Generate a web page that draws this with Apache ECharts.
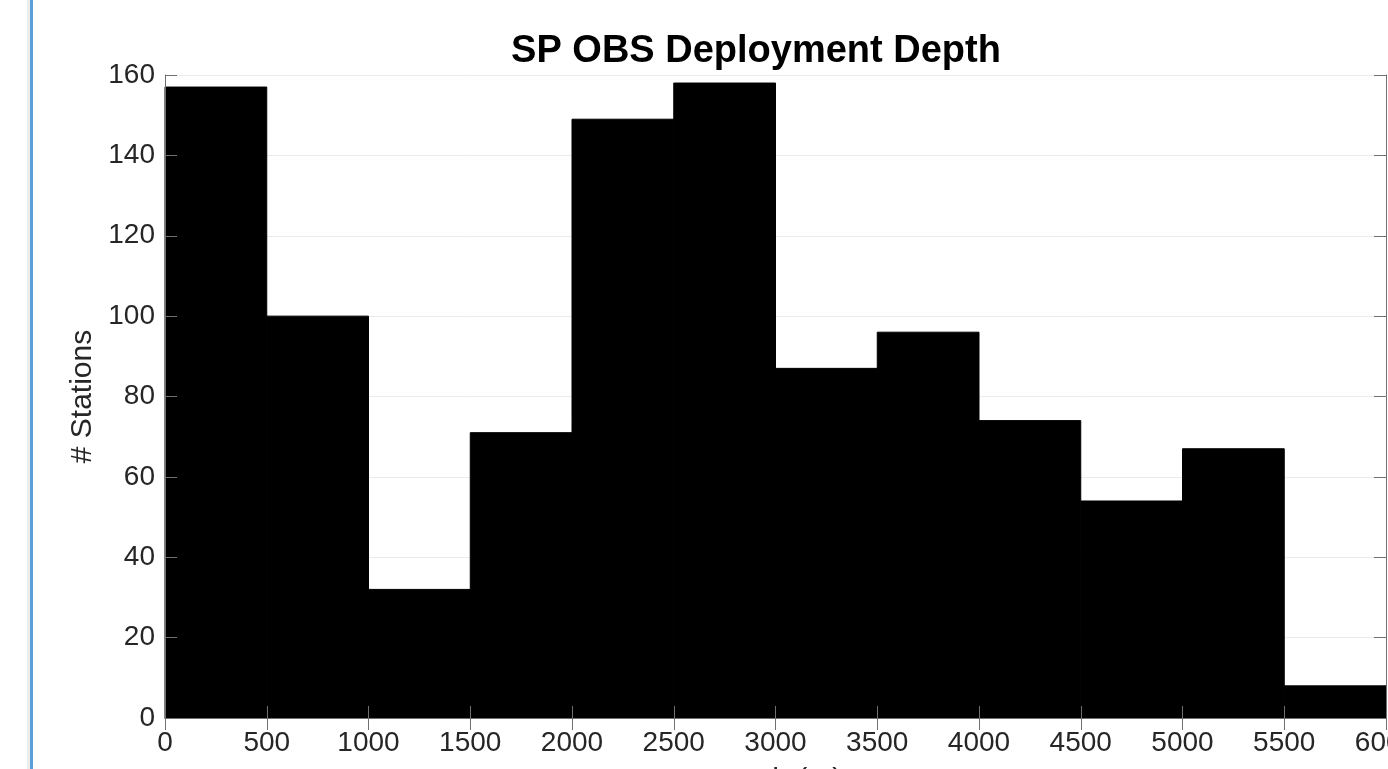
<!DOCTYPE html>
<html>
<head>
<meta charset="utf-8">
<title>SP OBS Deployment Depth</title>
<script src="https://cdn.jsdelivr.net/npm/echarts@6/dist/echarts.min.js"></script>
<style>
  html, body { margin: 0; padding: 0; background: #ffffff; overflow: hidden; }
  #chart { width: 1388px; height: 769px; }
</style>
</head>
<body>
<div id="chart"></div>
<script>
// Histogram of station deployment depths (bin width 500 m)
const binEdges = [0, 500, 1000, 1500, 2000, 2500, 3000, 3500, 4000, 4500, 5000, 5500, 6000];
const stationCounts = [157, 100, 32, 71, 149, 158, 87, 96, 74, 54, 67, 8];
const xTicks = [0, 500, 1000, 1500, 2000, 2500, 3000, 3500, 4000, 4500, 5000, 5500, 6000];
const yTicks = [0, 20, 40, 60, 80, 100, 120, 140, 160];

const titleText = 'SP OBS Deployment Depth';
const xLabel = 'Depth (m)';
const yLabel = '# Stations';

const FONT = '"Liberation Sans", Arial, Helvetica, sans-serif';
const axisGray = '#707070';
const labelColor = '#262626';

const bins = stationCounts.map((c, i) => [binEdges[i], binEdges[i + 1], c]);

const xMin = xTicks[0], xMax = xTicks[xTicks.length - 1], xStep = xTicks[1] - xTicks[0];
const yMin = yTicks[0], yMax = yTicks[yTicks.length - 1], yStep = yTicks[1] - yTicks[0];

const chart = echarts.init(document.getElementById('chart'), null, { renderer: 'canvas' });

const tickStyle = { show: true, inside: true, length: 12, lineStyle: { color: axisGray, width: 1 } };
const lineStyle = { show: true, lineStyle: { color: axisGray, width: 1 } };
const plainNumber = v => String(v);

chart.setOption({
  backgroundColor: '#ffffff',
  animation: false,
  grid: { left: 165, right: 2, top: 75, bottom: 51, containLabel: false, outerBoundsMode: 'none' },
  graphic: [
    // window edge stripe on the left
    { type: 'rect', shape: { x: 27, y: 0, width: 3, height: 769 }, style: { fill: '#ececec' }, z: 0 },
    { type: 'rect', shape: { x: 30, y: 0, width: 3, height: 769 }, style: { fill: '#5b9fd6' }, z: 0 },
    {
      type: 'text', x: 756, y: 52, z: 10,
      style: {
        text: titleText, fill: '#000000',
        font: 'bold 38px ' + FONT,
        textAlign: 'center', textVerticalAlign: 'middle'
      }
    }
  ],
  xAxis: [
    {
      type: 'value', position: 'bottom', min: xMin, max: xMax, interval: xStep, z: 5,
      axisLine: lineStyle, axisTick: tickStyle, splitLine: { show: false },
      axisLabel: { show: true, margin: 11, color: labelColor, fontSize: 28, fontFamily: FONT, formatter: plainNumber },
      name: xLabel, nameLocation: 'middle', nameGap: 48,
      nameTextStyle: { color: labelColor, fontSize: 30, fontFamily: FONT }
    },
    {
      type: 'value', position: 'top', min: xMin, max: xMax, interval: xStep, z: 5,
      axisLine: lineStyle, axisTick: tickStyle, splitLine: { show: false },
      axisLabel: { show: false }
    }
  ],
  yAxis: [
    {
      // grid lines behind the bars
      type: 'value', position: 'left', min: yMin, max: yMax, interval: yStep, z: 0,
      axisLine: { show: false }, axisTick: { show: false }, axisLabel: { show: false },
      splitLine: { show: true, lineStyle: { color: '#ebebeb', width: 1 } }
    },
    {
      type: 'value', position: 'left', min: yMin, max: yMax, interval: yStep, z: 5,
      axisLine: lineStyle, axisTick: tickStyle, splitLine: { show: false },
      axisLabel: { show: true, margin: 10, color: labelColor, fontSize: 28, fontFamily: FONT, formatter: plainNumber },
      name: yLabel, nameLocation: 'middle', nameGap: 66,
      nameTextStyle: { color: labelColor, fontSize: 30, fontFamily: FONT }
    },
    {
      type: 'value', position: 'right', min: yMin, max: yMax, interval: yStep, z: 5,
      axisLine: lineStyle, axisTick: tickStyle, splitLine: { show: false },
      axisLabel: { show: false }
    }
  ],
  series: [
    {
      type: 'custom',
      xAxisIndex: 0, yAxisIndex: 0, z: 2,
      data: bins,
      renderItem: function (params, api) {
        const p0 = api.coord([api.value(0), api.value(2)]);
        const p1 = api.coord([api.value(1), 0]);
        return {
          type: 'rect',
          shape: { x: p0[0], y: p0[1], width: p1[0] - p0[0], height: p1[1] - p0[1] },
          style: { fill: '#000000', stroke: '#000000', lineWidth: 1 }
        };
      }
    }
  ]
});
</script>
</body>
</html>
